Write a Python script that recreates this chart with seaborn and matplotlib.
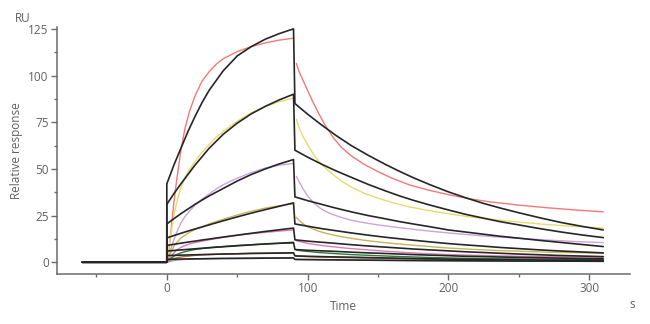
import numpy as np
import pandas as pd
import seaborn as sns
import matplotlib.pyplot as plt

# SPR sensorgram: colored = measured, black = fitted

baseline_t = [-60, -30, 0]
baseline_v = [0, 0, 0]

data_t_assoc = [0, 1, 2, 3, 5, 7, 10, 13, 16, 20, 25, 30, 35, 40, 50, 60, 70, 80, 90]
data_t_diss = [92, 94, 97, 100, 104, 108, 112, 118, 124, 131, 140, 150, 160, 172, 185, 200, 215, 230, 250, 270, 290, 310]

data_colors = ['#f07a78', '#e4dc6c', '#c9a6d8', '#c8b45a', '#e07ab8', '#2f7a3a', '#b8743a', '#8a9ab0']

red_assoc = [0, 4, 10, 17, 32, 44, 60, 72, 80.5, 89, 97, 102, 106, 109, 112.8, 115.5, 117.5, 119, 120]
red_diss = [106.5, 102, 97, 92, 85.5, 79.5, 74, 67, 61.5, 57, 52.5, 48.5, 45, 41.5, 38.8, 36.2, 34, 32.3, 30.6, 29.2, 28, 27]
yellow_assoc = [0, 5, 11, 16, 25, 32, 40, 45.5, 49.5, 54, 59, 63, 67, 70, 75.5, 80, 83.5, 86, 88]
yellow_diss = [76.5, 72, 67, 63, 58, 54, 51, 47, 43.5, 40.3, 37, 34.3, 32, 29.7, 27.8, 26, 24.3, 23, 21.5, 20.2, 19.2, 18.3]
purple_assoc = [0, 2.5, 5, 7.5, 12, 16, 21, 24.5, 27.3, 30.5, 33.8, 36.5, 39.2, 41.5, 45, 48, 50.5, 52, 53]
purple_diss = [46, 43, 39, 35.5, 32, 29.5, 27.5, 25.5, 24, 22.5, 21.2, 20, 19, 17.9, 16.8, 15.7, 14.7, 13.8, 12.8, 11.9, 11.1, 10.5]
tan_assoc = [0, 2, 4, 5.5, 8.5, 10.5, 13, 14.5, 16, 17.5, 19, 20.5, 21.8, 23, 25.3, 27.3, 29, 30.3, 31.3]
tan_diss = [24, 22.5, 20.5, 19, 17.7, 16.6, 15.7, 14.6, 13.7, 12.8, 11.8, 10.9, 10.1, 9.3, 8.5, 7.6, 7, 6.4, 5.9, 5.4, 5.1, 4.8]
pink_assoc = [0, 1, 2, 3, 5, 6.5, 8, 9, 9.8, 10.5, 11.3, 12, 12.7, 13.3, 14.4, 15.3, 16, 16.7, 17.3]
pink_diss = [11.5, 11.2, 10.6, 10.1, 9.6, 9.2, 8.8, 8.3, 7.8, 7.3, 6.8, 6.2, 5.7, 5.1, 4.6, 4.1, 3.8, 3.5, 3.2, 3.0, 2.8, 2.7]
green_assoc = [0, 0.7, 1.4, 2, 3.2, 4.1, 5, 5.7, 6.2, 6.8, 7.3, 7.7, 8.1, 8.4, 9, 9.4, 9.8, 10.1, 10.3]
green_diss = [6.5, 6.3, 6.0, 5.8, 5.5, 5.2, 5.0, 4.7, 4.4, 4.1, 3.8, 3.5, 3.2, 2.9, 2.6, 2.3, 2.1, 1.9, 1.75, 1.65, 1.55, 1.5]
brown_assoc = [0, 0.4, 0.8, 1.2, 1.9, 2.4, 2.8, 3.1, 3.3, 3.7, 3.9, 4.1, 4.25, 4.4, 4.6, 4.8, 4.9, 5.0, 5.1]
brown_diss = [3.3, 3.2, 3.1, 3.0, 2.9, 2.8, 2.7, 2.6, 2.5, 2.4, 2.25, 2.1, 1.95, 1.8, 1.6, 1.45, 1.3, 1.2, 1.05, 0.95, 0.85, 0.8]
grey_assoc = [0, 0.2, 0.4, 0.6, 0.9, 1.15, 1.4, 1.5, 1.6, 1.8, 1.9, 2.0, 2.05, 2.1, 2.2, 2.25, 2.3, 2.35, 2.4]
grey_diss = [1.5, 1.48, 1.45, 1.42, 1.38, 1.34, 1.3, 1.25, 1.2, 1.13, 1.05, 0.98, 0.9, 0.83, 0.76, 0.7, 0.65, 0.6, 0.56, 0.53, 0.51, 0.5]

data_assoc = [red_assoc, yellow_assoc, purple_assoc, tan_assoc, pink_assoc, green_assoc, brown_assoc, grey_assoc]
data_diss = [red_diss, yellow_diss, purple_diss, tan_diss, pink_diss, green_diss, brown_diss, grey_diss]

fit_t_assoc = [0, 5, 10, 15, 20, 25, 30, 40, 50, 60, 70, 80, 90]
fit_t_diss = [91, 100, 110, 120, 131, 143, 155, 165, 175, 187, 200, 212, 225, 237, 250, 265, 280, 295, 310]

fit_assoc = [
    [42, 52, 61, 70, 78, 85.5, 92, 102.5, 110.5, 115.5, 119.5, 122.5, 125],
    [31, 36.7, 42, 47, 52, 56.5, 61, 68.5, 74.5, 79.5, 83.5, 87, 90],
    [20.5, 23.3, 26, 28.5, 31, 33.3, 35.5, 39.5, 43.5, 47, 50, 52.7, 55],
    [13, 14.3, 15.5, 16.7, 17.8, 18.9, 20, 22.2, 24.3, 26.3, 28.2, 30, 31.8],
    [9, 9.6, 10.2, 10.8, 11.3, 11.9, 12.4, 13.5, 14.5, 15.5, 16.5, 17.4, 18.3],
    [6, 6.3, 6.6, 6.9, 7.2, 7.5, 7.8, 8.3, 8.8, 9.3, 9.8, 10.2, 10.6],
    [3.6, 3.7, 3.8, 3.9, 4.0, 4.1, 4.2, 4.4, 4.5, 4.7, 4.8, 4.9, 5.0],
    [1.6, 1.65, 1.7, 1.75, 1.8, 1.85, 1.9, 2.0, 2.05, 2.1, 2.2, 2.25, 2.3],
]
fit_diss = [
    [85, 79.3, 73.5, 68, 62.5, 57.3, 52.5, 48.8, 45.3, 41.5, 37.7, 34.6, 31.5, 29, 26.5, 23.8, 21.3, 19.2, 17.3],
    [60, 56.3, 52.5, 49, 45.5, 41.7, 38.3, 35.6, 33.2, 30.6, 28, 25.7, 23.6, 21.7, 20, 18, 16.2, 14.6, 13.2],
    [35, 33, 31, 29, 27, 25, 23.3, 21.8, 20.5, 19, 17.3, 16.2, 15, 13.9, 12.9, 11.7, 10.6, 9.5, 8.4],
    [20.5, 19.3, 18, 16.9, 15.7, 14.5, 13.4, 12.6, 11.8, 10.9, 10, 9.3, 8.6, 7.9, 7.3, 6.6, 6, 5.5, 5],
    [12, 11.3, 10.7, 10.1, 9.4, 8.7, 8.1, 7.6, 7.1, 6.6, 6.1, 5.6, 5.2, 4.8, 4.4, 4.0, 3.6, 3.3, 3.0],
    [6.8, 6.4, 6.1, 5.8, 5.4, 5.0, 4.7, 4.4, 4.1, 3.8, 3.5, 3.2, 3.0, 2.8, 2.6, 2.4, 2.2, 2.0, 1.8],
    [3.4, 3.2, 3.0, 2.85, 2.7, 2.5, 2.3, 2.15, 2.0, 1.85, 1.7, 1.6, 1.5, 1.4, 1.3, 1.2, 1.1, 1.05, 1.0],
    [1.5, 1.42, 1.35, 1.28, 1.2, 1.12, 1.05, 1.0, 0.95, 0.9, 0.85, 0.8, 0.75, 0.7, 0.65, 0.62, 0.6, 0.55, 0.5],
]

sns.set_style('ticks')
plt.rcParams['font.family'] = ['Open Sans', 'DejaVu Sans']

fig = plt.figure(figsize=(6.5, 3.24), dpi=100)
ax = fig.add_axes([57 / 650, 50 / 324, 573 / 650, 247 / 324])

for i in range(len(data_assoc)):
    seg1 = pd.DataFrame({'t': baseline_t + data_t_assoc, 'v': baseline_v + data_assoc[i]})
    seg2 = pd.DataFrame({'t': data_t_diss, 'v': data_diss[i]})
    sns.lineplot(data=seg1, x='t', y='v', ax=ax, color=data_colors[i], lw=1.0, sort=False, estimator=None)
    sns.lineplot(data=seg2, x='t', y='v', ax=ax, color=data_colors[i], lw=1.0, sort=False, estimator=None)

for i in range(len(fit_assoc)):
    seg = pd.DataFrame({'t': baseline_t + fit_t_assoc + fit_t_diss,
                        'v': baseline_v + fit_assoc[i] + fit_diss[i]})
    sns.lineplot(data=seg, x='t', y='v', ax=ax, color='#262626', lw=1.2, sort=False, estimator=None)

ax.set_xlim(-78, 329)
ax.set_ylim(-6.3, 126)
ax.set_xticks([0, 100, 200, 300])
ax.set_xticks([-50, 50, 150, 250], minor=True)
ax.set_yticks([0, 25, 50, 75, 100, 125])
ax.set_yticks([12.5, 37.5, 62.5, 87.5, 112.5], minor=True)

grey = '#6b6b6b'
for s in ['left', 'bottom']:
    ax.spines[s].set_color(grey)
    ax.spines[s].set_linewidth(1.1)
ax.spines['top'].set_visible(False)
ax.spines['right'].set_visible(False)
ax.tick_params(which='major', length=4, width=1, color=grey, labelcolor='#606060', labelsize=8.5, pad=2)
ax.tick_params(which='minor', length=2.5, width=1, color=grey)

ax.set_xlabel('Time', fontsize=8.5, color='#606060', labelpad=3)
ax.set_ylabel('Relative response', fontsize=8.5, color='#606060', labelpad=4)
fig.text(23 / 650, 1 - 19 / 324, 'RU', fontsize=8.5, color='#606060', ha='center', va='center')
fig.text(632 / 650, 1 - 305 / 324, 's', fontsize=8.5, color='#606060', ha='center', va='center')

fig.savefig('out.png', dpi=100)
